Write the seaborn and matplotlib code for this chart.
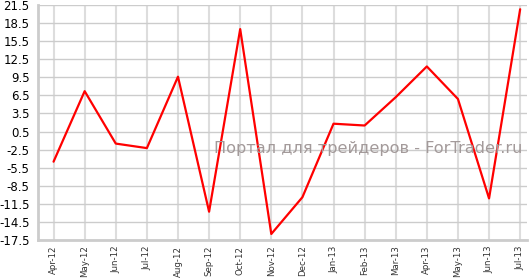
import matplotlib
matplotlib.use("Agg")
import matplotlib.pyplot as plt
import seaborn as sns
import pandas as pd

months = ["Apr-12", "May-12", "Jun-12", "Jul-12", "Aug-12", "Sep-12", "Oct-12", "Nov-12",
          "Dec-12", "Jan-13", "Feb-13", "Mar-13", "Apr-13", "May-13", "Jun-13", "Jul-13"]
values = [-4.5, 7.2, -1.5, -2.25, 9.6, -12.8, 17.5, -16.5,
          -10.4, 1.8, 1.5, 6.2, 11.3, 5.9, -10.6, 20.8]
y_ticks = [21.5, 18.5, 15.5, 12.5, 9.5, 6.5, 3.5, 0.5, -2.5, -5.5, -8.5, -11.5, -14.5, -17.5]
watermark = "Портал для трейдеров - ForTrader.ru"

sns.set_style("white")
plt.rcParams['font.family'] = ['DejaVu Sans']

df = pd.DataFrame({"idx": range(len(months)), "value": values})

fig = plt.figure(figsize=(5.29, 2.78), dpi=100)
ax = fig.add_axes([38 / 529, 38 / 278, (527 - 38) / 529, (273 - 38) / 278])

sns.lineplot(data=df, x="idx", y="value", ax=ax, color="#ff0000", linewidth=1.6, zorder=3)

ax.set_xlim(-0.5, 15.22)
ax.set_ylim(-17.5, 21.5)
ax.set_yticks(y_ticks)
ax.set_yticklabels([f"{t:.1f}" for t in y_ticks], fontsize=8.5, color="#000000")
ax.set_xticks(range(len(months)))
ax.set_xticklabels(months, rotation=90, fontsize=6.2, color="#333333")

ax.grid(axis="y", color="#cccccc", linewidth=1.0, zorder=0)
ax.grid(axis="x", color="#dddddd", linewidth=1.5, zorder=0)
ax.set_axisbelow(True)

for s in ["top", "right"]:
    ax.spines[s].set_visible(False)
for s in ["left", "bottom"]:
    ax.spines[s].set_color("#cccccc")
    ax.spines[s].set_linewidth(2)

ax.tick_params(axis="y", length=4, width=1, color="#cccccc", pad=2)
ax.tick_params(axis="x", length=3, width=1, color="#cccccc", pad=1)
ax.set_xlabel("")
ax.set_ylabel("")

fig.text(522 / 529, 1 - 148 / 278, watermark, ha="right", va="center",
         fontsize=11.6, color="#a39a9a", zorder=5)

fig.savefig("out.png", dpi=100)
